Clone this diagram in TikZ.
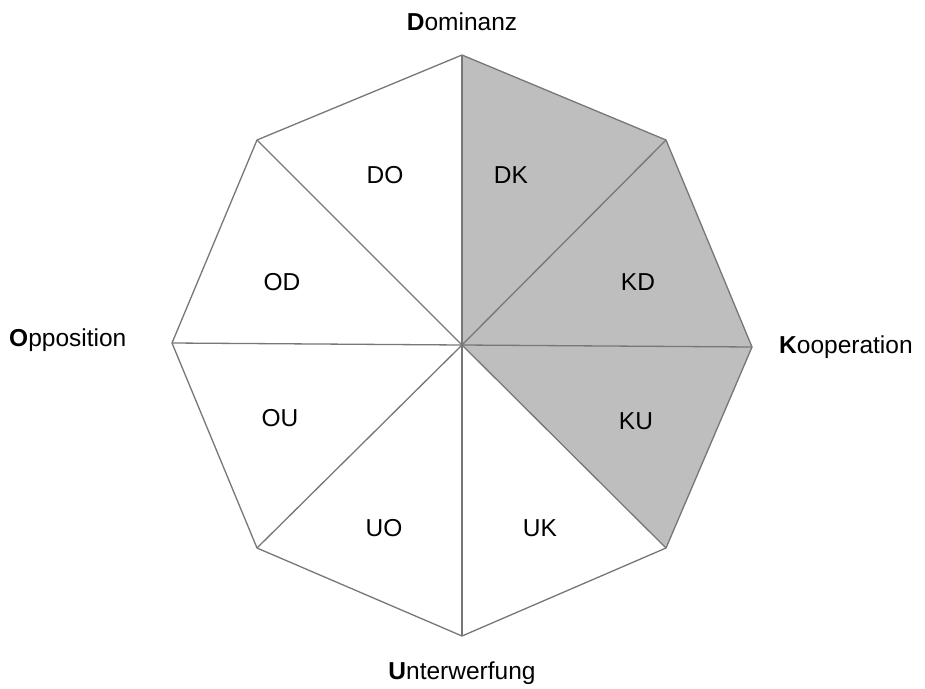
\documentclass[tikz,border=0pt]{standalone}
\usepackage{fontspec}
\setmainfont{Liberation Sans}
\definecolor{edgecol}{HTML}{777777}
\definecolor{fillcol}{HTML}{BEBEBE}
\begin{document}
\begin{tikzpicture}[x=1pt,y=-1pt,
  lbl/.style={font=\fontsize{24.5}{28}\selectfont, inner sep=0pt},
  ln/.style={draw=edgecol, line width=1.3pt, line join=round}]
\useasboundingbox (0,0) rectangle (925,688);
\fill[white] (0,0) rectangle (925,688);
\coordinate (C) at (462,345);
\coordinate (T) at (462,55);
\coordinate (UR) at (666,140);
\coordinate (R) at (752,347);
\coordinate (LR) at (666,548);
\coordinate (B) at (462,636);
\coordinate (LL) at (257,548);
\coordinate (L) at (172,343);
\coordinate (UL) at (257,140);
\fill[fill=fillcol] (C) -- (T) -- (UR) -- (R) -- (LR) -- cycle;
\draw[ln] (T) -- (UR) -- (R) -- (LR) -- (B) -- (LL) -- (L) -- (UL) -- cycle;
\foreach \v in {T,UR,R,LR,B,LL,L,UL} \draw[ln] (C) -- (\v);
\node[lbl] (do) at (385,175) {DO};
\node[lbl] (dk) at (511,175) {DK};
\node[lbl] (kd) at (638,282) {KD};
\node[lbl] (ku) at (636,421) {KU};
\node[lbl] (uk) at (540,528) {UK};
\node[lbl] (uo) at (384,528) {UO};
\node[lbl] (ou) at (280,418) {OU};
\node[lbl] (od) at (282,282) {OD};
\node[lbl] (dom) at (462,22) {\textbf{D}ominanz};
\node[lbl,anchor=west] (koo) at (779,347) {\textbf{K}ooperation};
\node[lbl,anchor=west] (opp) at (9,340) {\textbf{O}pposition};
\node[lbl] (unt) at (462,673) {\textbf{U}nterwerfung};
\end{tikzpicture}
\end{document}
